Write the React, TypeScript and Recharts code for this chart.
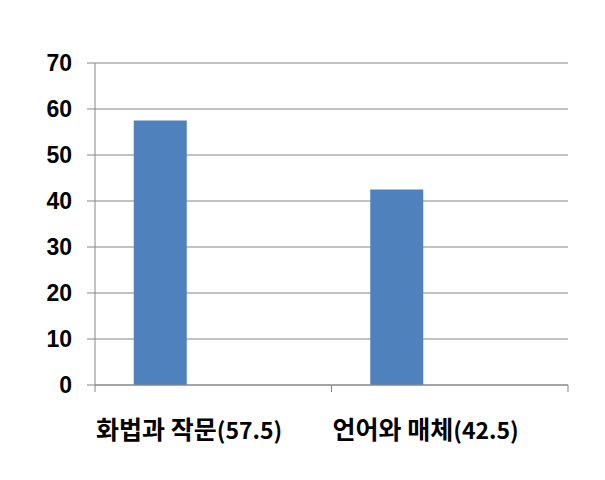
import React from "react";
import { BarChart, Bar, XAxis, YAxis, CartesianGrid } from "recharts";

const categoryNames = ["화법과 작문", "언어와 매체"];
const scores = [57.5, 42.5];
const yTicks = [0, 10, 20, 30, 40, 50, 60, 70];

const data = categoryNames.map((name, i) => ({
  name,
  label: `(${scores[i]})`,
  score: scores[i],
  empty1: null,
  empty2: null,
}));

const GRID = "#868686";

const XTick = (props: any) => {
  const { x, y, payload, index } = props;
  const half = payload && payload.offset ? payload.offset : 118.25;
  const left = x - half;
  const item = data[index] || { label: "" };
  return (
    <g>
      <line x1={left} y1={y - 8} x2={left} y2={y - 1} stroke={GRID} strokeWidth={1} />
      {index === categoryNames.length - 1 && (
        <line x1={x + half} y1={y - 8} x2={x + half} y2={y - 1} stroke={GRID} strokeWidth={1} />
      )}
      <text x={left + 1} y={y + 46} textAnchor="start" fill="#000" fontWeight="bold">
        <tspan fontFamily="'Noto Sans CJK KR', sans-serif" fontSize={25}>
          {payload.value}
        </tspan>
        <tspan
          fontFamily="'Liberation Sans Narrow', 'Noto Sans CJK KR', sans-serif"
          fontSize={23}
        >
          {item.label}
        </tspan>
      </text>
    </g>
  );
};

export default function App() {
  return (
    <div style={{ position: "absolute", left: 0, top: 0, background: "#fff" }}>
      <BarChart
        width={605}
        height={480}
        data={data}
        margin={{ top: 63, right: 37, left: 0, bottom: 35 }}
        barCategoryGap={38.75}
        barGap={0}
      >
        <CartesianGrid vertical={false} stroke={GRID} strokeDasharray="" />
        <XAxis
          dataKey="name"
          height={60}
          axisLine={{ stroke: GRID }}
          tickLine={false}
          tick={<XTick />}
          interval={0}
        />
        <YAxis
          width={95}
          domain={[0, 70]}
          ticks={yTicks}
          interval={0}
          axisLine={{ stroke: GRID }}
          tickLine={{ stroke: GRID }}
          tickSize={8}
          tickMargin={15}
          tick={{
            fill: "#000",
            fontSize: 23,
            fontWeight: "bold",
            fontFamily: "'Liberation Sans', Arial, sans-serif",
          }}
        />
        <Bar dataKey="score" fill="#4F81BD" isAnimationActive={false} />
        <Bar dataKey="empty1" fill="#C0504D" isAnimationActive={false} />
        <Bar dataKey="empty2" fill="#9BBB59" isAnimationActive={false} />
      </BarChart>
    </div>
  );
}
